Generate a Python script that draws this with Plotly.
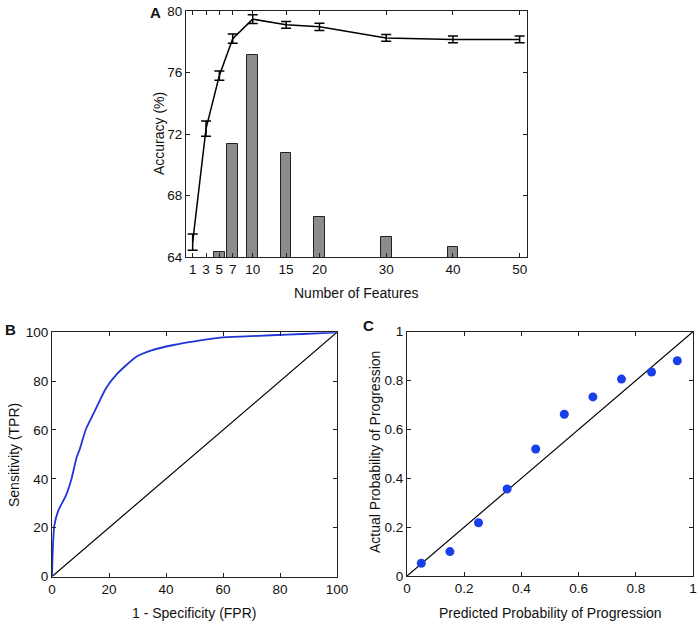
import plotly.graph_objects as go

# ---- Panel A data ----
features = [1, 3, 5, 7, 10, 15, 20, 30, 40, 50]
accuracy = [64.97, 72.35, 75.8, 78.2, 79.47, 79.1, 78.97, 78.25, 78.15, 78.15]
accuracy_err = [0.53, 0.5, 0.3, 0.3, 0.28, 0.22, 0.24, 0.22, 0.22, 0.22]
bar_features = [5, 7, 10, 15, 20, 30, 40]
bar_values = [64.33, 71.36, 77.12, 70.74, 66.58, 65.28, 64.66]
a_yticks = [64, 68, 72, 76, 80]

# ---- Panel B data (ROC) ----
fpr = [0, 0.2, 0.8, 2.2, 4.9, 6.7, 8.7, 9.6, 12, 14.9, 19, 22.6, 29.6, 34.9,
       42.6, 50, 59, 68, 77, 88, 100]
tpr = [0, 8.5, 20.8, 27, 33.2, 39.4, 49, 51.7, 60.6, 67.5, 77.2, 82.7, 90, 92.6,
       94.8, 96.3, 97.8, 98.3, 98.8, 99.3, 100]
b_ticks = [0, 20, 40, 60, 80, 100]

# ---- Panel C data (calibration) ----
predicted = [0.05, 0.15, 0.25, 0.35, 0.45, 0.55, 0.65, 0.75, 0.855, 0.945]
actual = [0.052, 0.10, 0.218, 0.356, 0.52, 0.662, 0.733, 0.806, 0.835, 0.881]
c_ticks = [0, 0.2, 0.4, 0.6, 0.8, 1]

FONT = "Arial, Liberation Sans, sans-serif"
TICKFONT = dict(family=FONT, size=13.5, color="#111")

fig = go.Figure()

# Panel A
fig.add_trace(go.Bar(x=bar_features, y=bar_values, width=1.6,
                     marker=dict(color="#8c8c8c", line=dict(color="#222", width=1)),
                     xaxis="x", yaxis="y", showlegend=False))
fig.add_trace(go.Scatter(x=features, y=accuracy, mode="lines",
                         line=dict(color="black", width=1.5),
                         error_y=dict(type="data", array=accuracy_err, color="black",
                                      thickness=1.5, width=5),
                         xaxis="x", yaxis="y", showlegend=False))

# Panel B
fig.add_trace(go.Scatter(x=[0, 100], y=[0, 100], mode="lines",
                         line=dict(color="black", width=1.2),
                         xaxis="x2", yaxis="y2", showlegend=False))
fig.add_trace(go.Scatter(x=fpr, y=tpr, mode="lines",
                         line=dict(color="#1f35d8", width=1.8, shape="spline", smoothing=0.6),
                         xaxis="x2", yaxis="y2", showlegend=False))

# Panel C
fig.add_trace(go.Scatter(x=[0, 1], y=[0, 1], mode="lines",
                         line=dict(color="black", width=1.2),
                         xaxis="x3", yaxis="y3", showlegend=False))
fig.add_trace(go.Scatter(x=predicted, y=actual, mode="markers",
                         marker=dict(color="#1a3ee8", size=9),
                         xaxis="x3", yaxis="y3", showlegend=False))

axis_common = dict(showline=True, linecolor="#222", linewidth=1, mirror="ticks",
                   ticks="inside", ticklen=4, tickcolor="#222", showgrid=False,
                   zeroline=False, tickfont=TICKFONT, fixedrange=True,
                   automargin=False)

fig.update_layout(
    template="none",
    width=700, height=626,
    margin=dict(l=0, r=0, t=0, b=0),
    paper_bgcolor="white", plot_bgcolor="white",
    font=dict(family=FONT, size=14, color="#111"),
    bargap=0,
    xaxis=dict(domain=[186/700, 527/700], anchor="y", range=[0, 51.1],
               tickmode="array", tickvals=features, **axis_common),
    yaxis=dict(domain=[1-257/626, 1-11/626], anchor="x", range=[64, 80],
               tickmode="array", tickvals=a_yticks, **axis_common),
    xaxis2=dict(domain=[52/700, 337/700], anchor="y2", range=[0, 100],
                tickmode="array", tickvals=b_ticks, **axis_common),
    yaxis2=dict(domain=[1-576.5/626, 1-332.3/626], anchor="x2", range=[0, 100],
                tickmode="array", tickvals=b_ticks, **axis_common),
    xaxis3=dict(domain=[407/700, 693/700], anchor="y3", range=[0, 1],
                tickmode="array", tickvals=c_ticks, **axis_common),
    yaxis3=dict(domain=[1-576/626, 1-331.7/626], anchor="x3", range=[0, 1],
                tickmode="array", tickvals=c_ticks, **axis_common),
)

def ann(text, x, y, angle=0, bold=False, size=14):
    fig.add_annotation(text=f"<b>{text}</b>" if bold else text,
                       x=x/700, y=1-y/626, xref="paper", yref="paper",
                       showarrow=False, textangle=angle,
                       font=dict(family=FONT, size=size, color="#111"),
                       xanchor="center", yanchor="middle")

ann("A", 155, 13, bold=True, size=15)
ann("Accuracy (%)", 159, 134, angle=-90)
ann("Number of Features", 356, 293)
ann("B", 10, 329, bold=True, size=15)
ann("Sensitivity (TPR)", 14, 455, angle=-90)
ann("1 - Specificity (FPR)", 194, 613)
ann("C", 368, 325, bold=True, size=15)
ann("Actual Probability of Progression", 375, 452, angle=-90)
ann("Predicted Probability of Progression", 550, 613)

fig.write_html("out.html", config={"displayModeBar": False},
               post_script="document.body.style.margin='0';document.body.style.overflow='hidden';")
